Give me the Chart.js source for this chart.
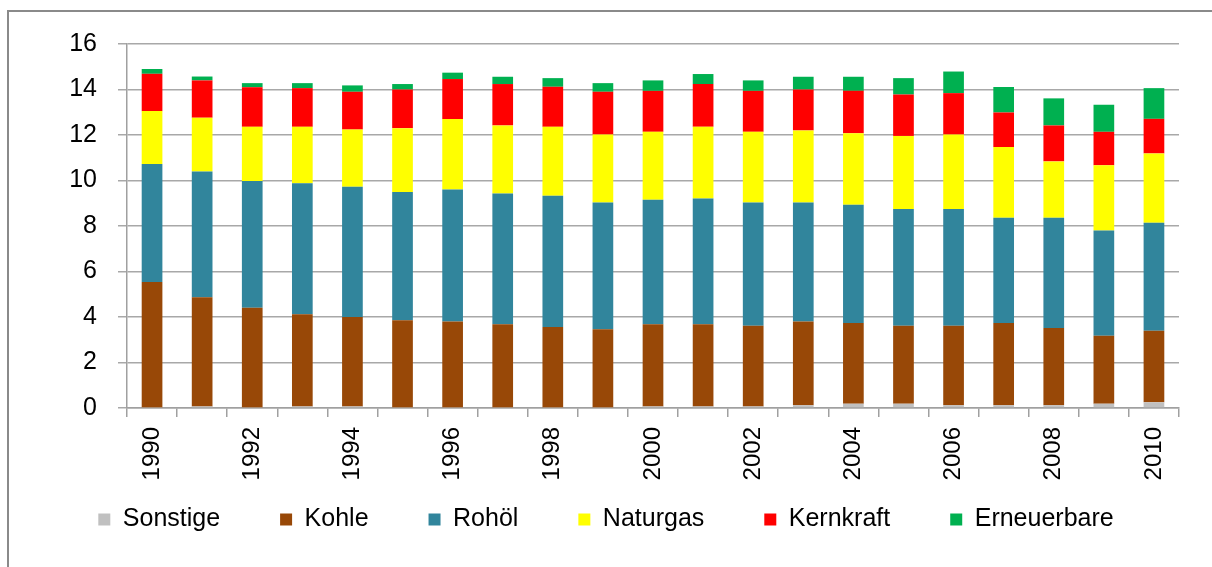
<!DOCTYPE html>
<html>
<head>
<meta charset="utf-8">
<script src="https://cdn.jsdelivr.net/npm/chart.js@4/dist/chart.umd.min.js"></script>
<style>
  body { margin: 0; background: #fff; }
  #frame { position: absolute; left: 7px; top: 10px; width: 1300px; height: 700px;
           border-left: 2px solid #8a8a8a; border-top: 2px solid #8a8a8a; }
  #wrap { position: absolute; left: 0; top: 0; width: 1212px; height: 567px; }
</style>
</head>
<body>
<div id="frame"></div>
<div id="wrap"><canvas id="energyChart"></canvas></div>
<script>
const years = ['1990','1991','1992','1993','1994','1995','1996','1997','1998','1999','2000',
  '2001','2002','2003','2004','2005','2006','2007','2008','2009','2010'];
const yTicks = [0, 2, 4, 6, 8, 10, 12, 14, 16];

const sonstige = [0.02,0.07,0.02,0.07,0.07,0.02,0.02,0.02,0.02,0.02,0.07,0.07,0.07,0.12,0.19,0.19,0.12,0.12,0.12,0.19,0.25];
const kohle = [5.52,4.80,4.39,4.05,3.93,3.84,3.78,3.66,3.54,3.44,3.61,3.61,3.55,3.68,3.55,3.43,3.50,3.62,3.40,2.99,3.15];
const rohoel = [5.19,5.53,5.57,5.76,5.72,5.63,5.80,5.75,5.77,5.57,5.47,5.53,5.41,5.23,5.19,5.13,5.13,4.62,4.84,4.62,4.74];
const naturgas = [2.32,2.36,2.38,2.48,2.52,2.81,3.10,2.99,3.03,2.99,2.99,3.15,3.11,3.17,3.15,3.21,3.27,3.11,2.48,2.87,3.05];
const kernkraft = [1.64,1.64,1.74,1.70,1.66,1.70,1.76,1.82,1.76,1.88,1.80,1.88,1.80,1.80,1.86,1.82,1.82,1.52,1.58,1.47,1.52];
const erneuerbare = [0.21,0.17,0.18,0.22,0.28,0.24,0.28,0.32,0.38,0.38,0.46,0.44,0.46,0.56,0.62,0.72,0.95,1.12,1.19,1.19,1.35];

const family = '"Liberation Sans", Arial, sans-serif';

function series(label, data, color) {
  return {
    label: label,
    data: data,
    backgroundColor: color,
    borderWidth: 0,
    barPercentage: 0.413,
    categoryPercentage: 1
  };
}

// legend sits closer to the axis than the layout would put it
const legendPos = {
  id: 'legendPos',
  afterLayout: function(chart) {
    if (chart.legend) {
      chart.legend.top = 447;
      chart.legend.bottom = 552;
      chart.legend.left = 0;
      chart.legend.right = 1212;
    }
  }
};

const ctx = document.getElementById('energyChart').getContext('2d');

new Chart(ctx, {
  type: 'bar',
  data: {
    labels: years,
    datasets: [
      series('Sonstige', sonstige, '#c0c0c0'),
      series('Kohle', kohle, '#984807'),
      series('Rohöl', rohoel, '#31859c'),
      series('Naturgas', naturgas, '#ffff00'),
      series('Kernkraft', kernkraft, '#ff0000'),
      series('Erneuerbare', erneuerbare, '#00b050')
    ]
  },
  plugins: [legendPos],
  options: {
    responsive: true,
    maintainAspectRatio: false,
    animation: false,
    layout: { padding: { left: 0, right: 33, top: 44, bottom: 39 } },
    scales: {
      x: {
        stacked: true,
        border: { color: '#a0a0a0', width: 1.5 },
        grid: { drawOnChartArea: false, drawTicks: true, tickLength: 9, color: '#a0a0a0', lineWidth: 1.5, offset: true },
        ticks: {
          color: '#000',
          font: { family: family, size: 24 },
          padding: 10,
          autoSkip: false,
          minRotation: 90,
          maxRotation: 90,
          callback: function(value, index) {
            return index % 2 === 0 ? years[index] : '';
          }
        },
        afterFit: function(scale) { scale.height = 80; }
      },
      y: {
        stacked: true,
        min: 0,
        max: 16,
        afterBuildTicks: function(scale) {
          scale.ticks = yTicks.map(v => ({ value: v }));
        },
        border: { color: '#a0a0a0', width: 1.5 },
        grid: { color: '#a8a8a8', lineWidth: 1.5, tickLength: 9 },
        ticks: { color: '#000', font: { family: family, size: 25 }, padding: 21 },
        afterFit: function(scale) { scale.width = 127; }
      }
    },
    plugins: {
      tooltip: { enabled: false },
      legend: {
        position: 'bottom',
        maxHeight: 40,
        labels: {
          color: '#000',
          font: { family: family, size: 25 },
          boxWidth: 12,
          boxHeight: 12,
          padding: 60
        }
      }
    }
  }
});
</script>
</body>
</html>
